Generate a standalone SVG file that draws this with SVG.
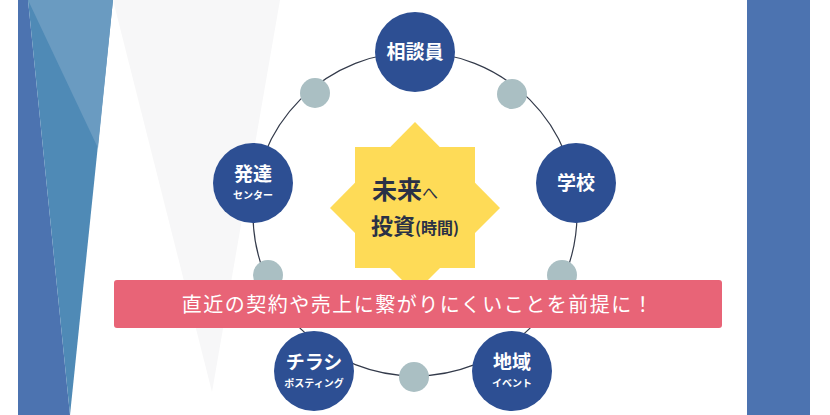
<svg xmlns="http://www.w3.org/2000/svg" width="830" height="415" viewBox="0 0 830 415">
<style>
.n{fill:#2d4f93}
.d{fill:#aabfc3}
.t{font-family:"Noto Sans CJK JP",sans-serif;font-weight:bold;fill:#fff;text-anchor:middle}
.s{font-family:"Noto Sans CJK JP",sans-serif;font-weight:bold;fill:#fff;text-anchor:middle;font-size:10px}
</style>
<rect width="830" height="415" fill="#fff"/>
<polygon points="113,0 280,0 212,392" fill="#f7f7f8"/>
<polygon points="18,0 28,0 70,415 18,415" fill="#4c73b0"/>
<polygon points="28,0 113,0 70,415" fill="#4f8ab6"/>
<polygon points="28,0 113,0 98,148" fill="#6a9bc1"/>
<rect x="747" y="0" width="63" height="415" fill="#4c73b0"/>
<g id="connectors">
<circle cx="415" cy="214" r="162" fill="none" stroke="#333a4a" stroke-width="1.2"/>
</g>
<g id="dots">
<circle class="d" cx="315" cy="93" r="15"/>
<circle class="d" cx="512" cy="94" r="15"/>
<circle class="d" cx="268" cy="275" r="15"/>
<circle class="d" cx="562" cy="275" r="15"/>
<circle class="d" cx="414" cy="377" r="15"/>
</g>
<g id="center">
<rect x="355" y="147" width="120" height="121" fill="#fedb57"/>
<polygon points="415,122 500,208 415,293 330,208" fill="#fedb57"/>
<text x="405" y="199" font-family="Noto Sans CJK JP,sans-serif" font-weight="bold" font-size="25" fill="#2a3146" text-anchor="middle">未来<tspan font-size="16" font-weight="normal">へ</tspan></text>
<text x="415" y="234" font-family="Noto Sans CJK JP,sans-serif" font-weight="bold" font-size="22" fill="#2a3146" text-anchor="middle">投資<tspan font-size="16">(時間)</tspan></text>
</g>
<g id="banner">
<rect x="114" y="280" width="608" height="48" rx="3" fill="#e86477"/>
<text x="418" y="312" font-family="Noto Sans CJK JP,sans-serif" font-size="20" fill="#fff" text-anchor="middle" letter-spacing="1.5">直近の契約や売上に繋がりにくいことを前提に！</text>
</g>
<g id="n1"><circle class="n" cx="415" cy="52" r="40"/><text class="t" x="415" y="59" font-size="19">相談員</text></g>
<g id="n2"><circle class="n" cx="576" cy="183" r="40"/><text class="t" x="576" y="190" font-size="19">学校</text></g>
<g id="n3"><circle class="n" cx="512" cy="371" r="40"/><text class="t" x="512" y="369" font-size="19">地域</text><text class="s" x="512" y="387">イベント</text></g>
<g id="n4"><circle class="n" cx="314" cy="371" r="40"/><text class="t" x="314" y="369" font-size="19">チラシ</text><text class="s" x="314" y="387">ポスティング</text></g>
<g id="n5"><circle class="n" cx="253" cy="183" r="40"/><text class="t" x="253" y="181" font-size="19">発達</text><text class="s" x="253" y="199">センター</text></g>
</svg>
